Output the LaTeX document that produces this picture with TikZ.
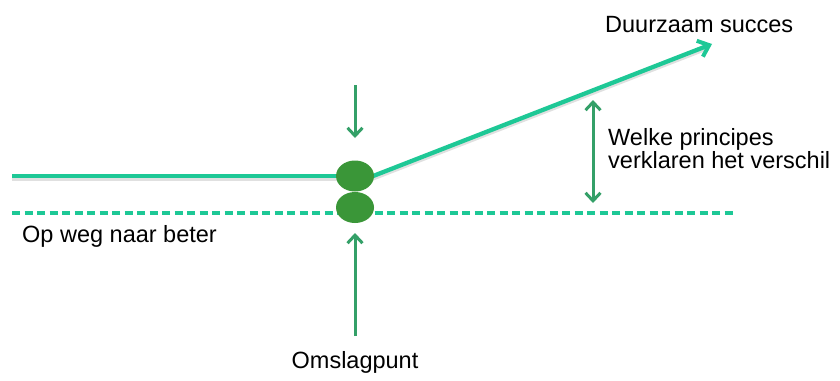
\documentclass[tikz,border=0pt]{standalone}
\usepackage{fontspec}
\setmainfont{Liberation Sans}
\usetikzlibrary{arrows.meta,shapes.geometric}
\definecolor{teal1}{RGB}{30,200,150}
\definecolor{arrowg}{RGB}{52,160,104}
\definecolor{dotg}{RGB}{58,150,56}
\tikzset{
  mainline/.style={draw=teal1,line width=4.3pt},
  shadowline/.style={draw=black,opacity=0.12,line width=4pt},
  dashline/.style={draw=teal1,line width=3.3pt,dash pattern=on 8pt off 4.5pt},
  garrow/.style={draw=arrowg,line width=3pt,-{Straight Barb[length=8pt,width=15pt,line width=3pt]}},
  gdarrow/.style={draw=arrowg,line width=3pt,{Straight Barb[length=8pt,width=15pt,line width=3pt]}-{Straight Barb[length=8pt,width=15pt,line width=3pt]}},
  dot/.style={ellipse,fill=dotg,minimum width=38pt,minimum height=31pt,inner sep=0pt},
  lbl/.style={font=\fontsize{23.5pt}{23pt}\selectfont,inner sep=0pt,text=black}
}
\begin{document}
\begin{tikzpicture}[x=1pt,y=-1pt]
\useasboundingbox[fill=white] (0,0) rectangle (840,380);
% coordinates
\coordinate (l0) at (12,176);
\coordinate (l1) at (345,176);
\coordinate (r0) at (368,178);
\coordinate (r1) at (712,44);
\coordinate (d0) at (12,213);
\coordinate (d1) at (736,213);
\coordinate (a0) at (355,85);
\coordinate (a1) at (355,138);
\coordinate (b0) at (355,336);
\coordinate (b1) at (355,233);
\coordinate (v0) at (593,100);
\coordinate (v1) at (593,203);
% shadows
\draw[shadowline] ([yshift=-2.5pt]l0) -- ([yshift=-2.5pt]l1);
\draw[shadowline,shorten >=6pt] ([yshift=-2.5pt]r0) -- ([yshift=-2.5pt]r1);
% lines
\draw[dashline] (d0) -- (d1);
\draw[mainline] (l0) -- (l1);
\draw[mainline,-{Straight Barb[length=10pt,width=17pt,line width=4pt]}] (r0) -- (r1);
% dots
\node[dot] (e1) at (355,176) {};
\node[dot] (e2) at (355,207.5) {};
% arrows
\draw[garrow] (a0) -- (a1);
\draw[garrow] (b0) -- (b1);
\draw[gdarrow] (v0) -- (v1);
% labels
\node[lbl,anchor=base west] (t1) at (605,32) {Duurzaam succes};
\node[lbl,anchor=base west] (t2) at (22,242) {Op weg naar beter};
\node[lbl,anchor=base] (t3) at (355,368) {Omslagpunt};
\node[lbl,anchor=north west,align=left] (t4) at (608,128) {Welke principes\\verklaren het verschil};
\end{tikzpicture}
\end{document}
